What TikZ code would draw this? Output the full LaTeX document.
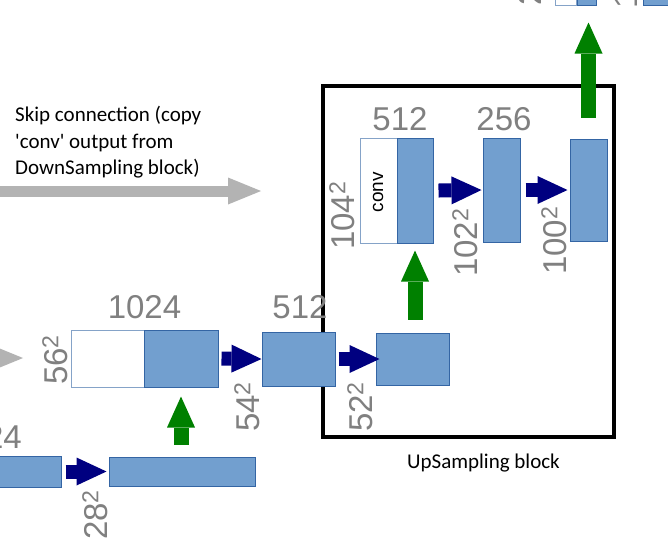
\documentclass[tikz,border=0pt]{standalone}
\usepackage{fontspec}
\usetikzlibrary{arrows.meta}
\newfontfamily\numfont{Liberation Sans}
\newfontfamily\notefont{Carlito}[Ligatures=TeXOff]
\definecolor{mapfill}{HTML}{729FCF}
\definecolor{mapline}{HTML}{3465A4}
\definecolor{dimgrey}{HTML}{808080}
\definecolor{convnavy}{HTML}{000080}
\definecolor{upgreen}{HTML}{008000}
\definecolor{skipgrey}{HTML}{B3B3B3}
\tikzset{
	fmap/.style={draw=mapline, fill=mapfill, line width=1pt, inner sep=0pt},
	cmap/.style={draw=mapline!60, fill=white, line width=1pt, inner sep=0pt},
	chans/.style={text=dimgrey, font=\numfont\fontsize{33}{33}\selectfont, inner sep=0pt},
	dims/.style={chans, rotate=90, anchor=south west},
	convarrow/.style={draw=convnavy, line width=14pt, -{Triangle[length=30pt,width=28pt,line width=0pt]}},
	uparrow/.style={draw=upgreen, line width=15pt, -{Triangle[length=31pt,width=28pt,line width=0pt]}},
	skiparrow/.style={draw=skipgrey, line width=11pt, -{Triangle[length=33pt,width=27pt,line width=0pt]}},
	note/.style={font=\notefont\fontsize{21}{26.5}\selectfont, inner sep=0pt}
}
\begin{document}
\begin{tikzpicture}[x=1pt,y=-1pt]
				\fill[white] (0,0) rectangle (668,558);
				\useasboundingbox (0,0) rectangle (668,558);
				\coordinate (skipa) at (-5,191);
				\coordinate (skipb) at (261,191);
				\coordinate (skipc) at (-40,358);
				\coordinate (skipd) at (23,358);
				%
				\draw[skiparrow] (skipa) -- (skipb);
				\draw[skiparrow] (skipc) -- (skipd);
				\draw[line width=4pt] (323,86) rectangle (614,437);
				%
				\foreach \name/\x/\y/\w/\h in {topw/565.5/0/21/10, convw/378.5/190.5/37/105, catw/107.5/358.5/73/57}
				\node[cmap, minimum width=\w pt, minimum height=\h pt] (\name) at (\x,\y) {};
				\foreach \name/\x/\y/\w/\h in {topb/586.5/0/19/10, topr/656/0/26/10, convb/415/190.5/36/105,
					up2/501.5/190/37/104, up3/588.5/190/37/102, catb/181/358.5/74/57, c512/298.5/359/73/54,
					upin/412.5/359/73/52, botl/28/471.5/66/31, botr/182/471.5/146/29}
				\node[fmap, minimum width=\w pt, minimum height=\h pt] (\name) at (\x,\y) {};
				%
				\node[rotate=90, inner sep=0pt, font=\numfont\fontsize{19}{19}\selectfont] (convtxt) at (378,192) {conv};
				\node[chans] (n512a) at (400,119) {512};
				\node[chans] (n256) at (504,119) {256};
				\node[chans] (n1024) at (144.5,307) {1024};
				\node[chans] (n512b) at (300,307) {512};
				\node[chans, anchor=east] (n24) at (22,437) {24};
				\node[dims] (d104) at (355,250) {104\textsuperscript{2}};
				\node[dims] (d102) at (478,277) {102\textsuperscript{2}};
				\node[dims] (d100) at (567,275) {100\textsuperscript{2}};
				\node[dims] (d56) at (68,385) {56\textsuperscript{2}};
				\node[dims] (d54) at (260,432) {54\textsuperscript{2}};
				\node[dims] (d52) at (373,432) {52\textsuperscript{2}};
				\node[dims] (d28) at (108,540) {28\textsuperscript{2}};
				\node[dims] (dtopa) at (542,6) {2};
				\node[dims] (dtopb) at (638,9) {1};
				%
				\node[note, anchor=north west, align=left] (skipnote) at (15,106) {Skip connection (copy\\'conv' output from\\DownSampling block)};
				\node[note, anchor=base] (uplabel) at (483.5,468) {UpSampling block};
				%
				\draw[convarrow] ([xshift=3pt]catb.east) -- (c512.west);
				\draw[convarrow] ([xshift=3pt]c512.east) -- ([xshift=4pt]upin.west);
				\draw[convarrow] ([xshift=5pt]convb.east) -- ([xshift=-1pt]up2.west);
				\draw[convarrow] ([xshift=5pt]up2.east) -- ([xshift=-2pt]up3.west);
				\draw[convarrow] ([xshift=4pt]botl.east) -- ([xshift=-2pt]botr.west);
				%
				\coordinate (g1top) at (up3.north |- topb.south);
				\coordinate (g2foot) at (convb.south |- upin.north);
				\coordinate (g3foot) at (catb.south |- botr.north);
				\draw[uparrow] ([yshift=21pt]up3.north) -- ([yshift=-17pt]g1top);
				\draw[uparrow] ([yshift=13pt]g2foot) -- ([yshift=-7pt]convb.south);
				\draw[uparrow] ([yshift=12pt]g3foot) -- ([yshift=-9pt]catb.south);
			\end{tikzpicture}
\end{document}
